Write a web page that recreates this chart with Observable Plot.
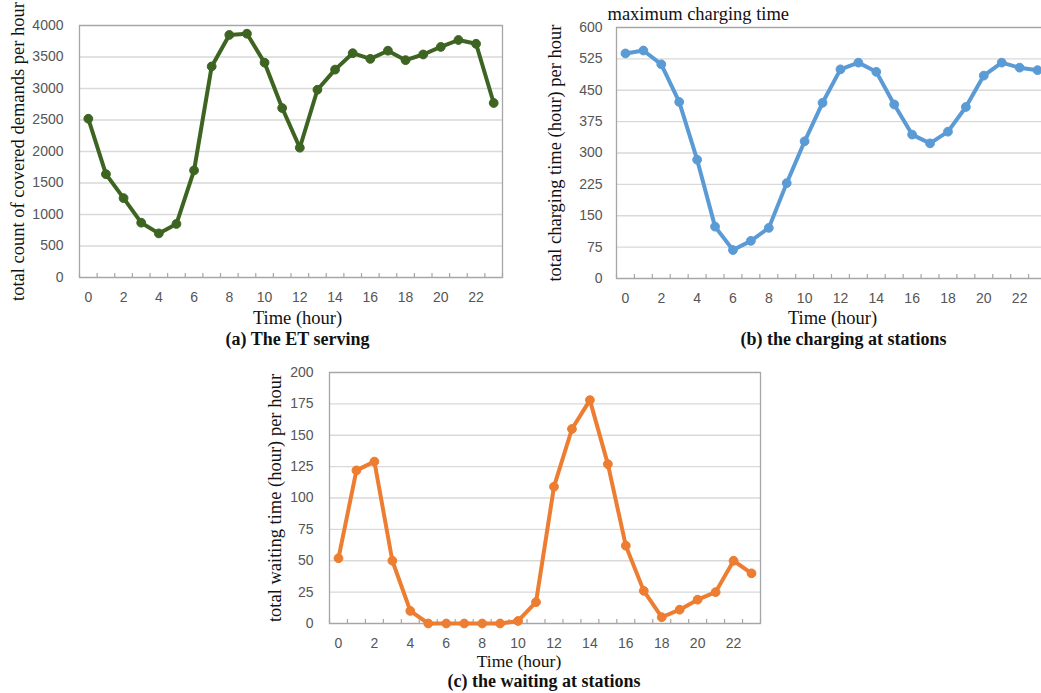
<!DOCTYPE html>
<html>
<head>
<meta charset="utf-8">
<script src="https://cdn.jsdelivr.net/npm/d3@7"></script>
<script src="https://cdn.jsdelivr.net/npm/@observablehq/plot@0.6"></script>
<style>
  html, body { margin: 0; padding: 0; background: #fff; width: 1041px; height: 693px; overflow: hidden; }
  #wrap { position: relative; width: 1041px; height: 693px; overflow: hidden; }
  .panel { position: absolute; left: 0; top: 0; }
  .panel svg { overflow: visible; max-width: none !important; display: block; }
</style>
</head>
<body>
<div id="wrap">
  <div class="panel" id="pa" style="width:520px"></div>
  <div class="panel" id="pb" style="width:1060px"></div>
  <div class="panel" id="pc" style="width:800px"></div>
</div>
<script>
// ---- data ----
const hours = [0,1,2,3,4,5,6,7,8,9,10,11,12,13,14,15,16,17,18,19,20,21,22,23];
const xTickLabels = [0,2,4,6,8,10,12,14,16,18,20,22];

const servedDemands = [2520,1640,1260,870,700,850,1700,3350,3850,3870,3410,2690,2060,2980,3300,3560,3470,3600,3450,3540,3660,3770,3710,2770];
const yTicksA = [0,500,1000,1500,2000,2500,3000,3500,4000];

const chargingTime = [538,545,512,422,284,124,68,90,121,228,328,420,500,516,494,416,344,323,351,410,485,516,504,498];
const yTicksB = [0,75,150,225,300,375,450,525,600];

const waitingTime = [52,122,129,50,10,0,0,0,0,0,2,17,109,155,178,127,62,26,5,11,19,25,50,40];
const yTicksC = [0,25,50,75,100,125,150,175,200];

const panelA = {y: servedDemands, yTicks: yTicksA, color: "#3d6421",
  yLabel: "total count of covered demands per hour", xLabel: "Time (hour)",
  caption: "(a) The ET serving", note: null};
const panelB = {y: chargingTime, yTicks: yTicksB, color: "#5b9bd5",
  yLabel: "total charging time (hour) per hour", xLabel: "Time (hour)",
  caption: "(b) the charging at stations", note: "maximum charging time"};
const panelC = {y: waitingTime, yTicks: yTicksC, color: "#ed7d31",
  yLabel: "total waiting time (hour) per hour", xLabel: "Time (hour)",
  caption: "(c) the waiting at stations", note: null};

const boundaries = d3.range(hours.length + 1).map(i => i - 0.5);
const SERIF = "'Liberation Serif', 'Times New Roman', serif";
const SANS = "'Liberation Sans', Arial, sans-serif";

function makePanel(p, layout) {
  const data = hours.map((h, i) => ({hour: h, value: p.y[i]}));
  const yMax = p.yTicks[p.yTicks.length - 1];
  const marks = [
    Plot.gridY(p.yTicks, {stroke: "#d9d9d9", strokeOpacity: 1, strokeWidth: 1.3}),
    Plot.frame({stroke: "#a6a6a6", strokeWidth: 1.3}),
    Plot.ruleX(boundaries, {x: d => d, y1: 0, y2: 0, insetTop: -4, stroke: "#a6a6a6", strokeWidth: 1.2}),
    Plot.axisY(p.yTicks, {tickSize: 0, tickPadding: layout.yPad, tickFormat: d => String(d), fontSize: 14, fontFamily: SANS, fill: "#555", label: null}),
    Plot.axisX(xTickLabels, {tickSize: 0, tickPadding: layout.xPad, tickFormat: d => String(d), fontSize: 14, fontFamily: SANS, fill: "#555", label: null}),
    Plot.line(data, {x: "hour", y: "value", stroke: p.color, strokeWidth: 4, strokeLinejoin: "round", strokeLinecap: "round"}),
    Plot.dot(data, {x: "hour", y: "value", r: 4.4, fill: p.color, stroke: p.color, strokeWidth: 1}),
    Plot.text([p.yLabel], {frameAnchor: "left", rotate: -90, dx: layout.yLabelDx, textAnchor: "middle", lineAnchor: "middle", fontFamily: SERIF, fontSize: 18.5, fill: "#111"}),
    Plot.text([p.xLabel], {frameAnchor: "bottom", dy: layout.xLabelDy, dx: layout.xLabelDx, lineAnchor: "middle", fontFamily: SERIF, fontSize: layout.xLabelSize || 18.5, fill: "#111"}),
    Plot.text([p.caption], {frameAnchor: "bottom", dy: layout.capDy, dx: layout.capDx, lineAnchor: "middle", fontFamily: SERIF, fontSize: 18, fontWeight: "bold", fill: "#111"})
  ];
  if (p.note) {
    marks.push(Plot.text([p.note], {frameAnchor: "top-left", dx: layout.noteDx, dy: layout.noteDy, textAnchor: "start", lineAnchor: "middle", fontFamily: SERIF, fontSize: 18.5, fill: "#111"}));
  }
  return Plot.plot({
    width: layout.width,
    height: layout.height,
    marginLeft: layout.left,
    marginTop: layout.top,
    marginRight: layout.width - layout.right,
    marginBottom: layout.height - layout.bottom,
    style: {background: "transparent", overflow: "visible"},
    x: {type: "linear", domain: [-0.5, hours.length - 0.5], axis: null},
    y: {type: "linear", domain: [0, yMax], axis: null},
    marks
  });
}

const svgA = makePanel(panelA, {width: 520, height: 350, left: 79, top: 25, right: 502, bottom: 277,
  yPad: 16, xPad: 15, yLabelDx: -61, xLabelDx: 6.5, xLabelDy: 41, capDx: 6.5, capDy: 62});
const svgB = makePanel(panelB, {width: 1060, height: 350, left: 616, top: 27, right: 1046, bottom: 278,
  yPad: 14, xPad: 15, yLabelDx: -61, xLabelDx: 1, xLabelDy: 40, capDx: 12, capDy: 61, noteDx: -9, noteDy: -13});
const svgC = makePanel(panelC, {width: 800, height: 693, left: 329, top: 372, right: 760, bottom: 623,
  yPad: 16, xPad: 15, yLabelDx: -54, xLabelDx: -26, xLabelDy: 37.5, xLabelSize: 17.5, capDx: -1, capDy: 58});

document.getElementById("pa").appendChild(svgA);
document.getElementById("pb").appendChild(svgB);
document.getElementById("pc").appendChild(svgC);
</script>
</body>
</html>
